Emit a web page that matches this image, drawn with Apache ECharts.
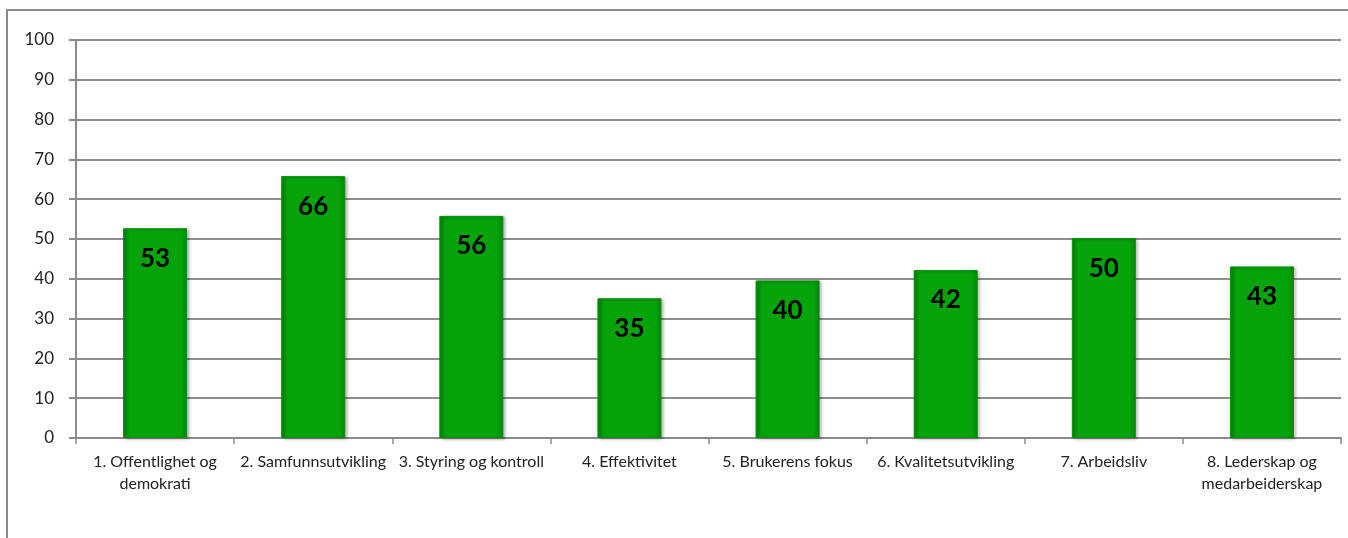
<!DOCTYPE html>
<html>
<head>
<meta charset="utf-8">
<script src="https://cdn.jsdelivr.net/npm/echarts@6/dist/echarts.min.js"></script>
<style>
html,body{margin:0;padding:0;background:#fff;}
#chart{width:1348px;height:538px;}
</style>
</head>
<body>
<div id="chart"></div>
<script>
const categories = [
  "1. Offentlighet og\ndemokrati",
  "2. Samfunnsutvikling",
  "3. Styring og kontroll",
  "4. Effektivitet",
  "5. Brukerens fokus",
  "6. Kvalitetsutvikling",
  "7. Arbeidsliv",
  "8. Lederskap og\nmedarbeiderskap"
];
const values = [52.7, 65.8, 55.8, 35.1, 39.6, 42.2, 50.2, 43.1];
const yTicks = { min: 0, max: 100, interval: 10 };

const chart = echarts.init(document.getElementById('chart'));
const barColor = {
  type: 'linear', x: 0, y: 0, x2: 1, y2: 0,
  colorStops: [
    { offset: 0, color: '#02860a' },
    { offset: 0.1, color: '#06a30b' },
    { offset: 0.9, color: '#06a30b' },
    { offset: 1, color: '#02860a' }
  ]
};
chart.setOption({
  animation: false,
  backgroundColor: '#ffffff',
  graphic: [{
    type: 'rect',
    shape: { x: 7, y: 10, width: 1400, height: 600 },
    style: { fill: 'none', stroke: '#8a8a8a', lineWidth: 2 },
    silent: true
  }],
  grid: { left: 76, right: 7, top: 40, bottom: 100, containLabel: false },
  xAxis: {
    type: 'category',
    data: categories,
    axisLine: { show: true, lineStyle: { color: '#8a8a8a', width: 2 } },
    axisTick: { show: true, interval: 0, length: 6, lineStyle: { color: '#8a8a8a', width: 1.5 } },
    axisLabel: {
      interval: 0, margin: 13, color: '#222', fontSize: 16,
      fontFamily: 'Lato', lineHeight: 22
    }
  },
  yAxis: {
    type: 'value',
    min: yTicks.min, max: yTicks.max, interval: yTicks.interval,
    axisLine: { show: true, lineStyle: { color: '#8a8a8a', width: 2 } },
    axisTick: { show: true, length: 7, lineStyle: { color: '#8a8a8a', width: 2 } },
    splitLine: { show: true, lineStyle: { color: '#8e8e8e', width: 2 } },
    axisLabel: { margin: 22, color: '#222', fontSize: 17, fontFamily: 'Lato' }
  },
  series: [{
    type: 'bar',
    data: values,
    barWidth: 64,
    itemStyle: {
      color: barColor,
      borderColor: '#039008',
      borderWidth: 1,
      shadowColor: 'rgba(0,0,0,0.3)',
      shadowBlur: 3,
      shadowOffsetX: 2,
      shadowOffsetY: 1
    },
    label: {
      show: true,
      position: 'insideTop',
      distance: 17,
      color: '#000',
      fontSize: 26,
      fontWeight: 'bold',
      fontFamily: 'Lato',
      formatter: p => Math.round(p.value)
    }
  }]
});
</script>
</body>
</html>
